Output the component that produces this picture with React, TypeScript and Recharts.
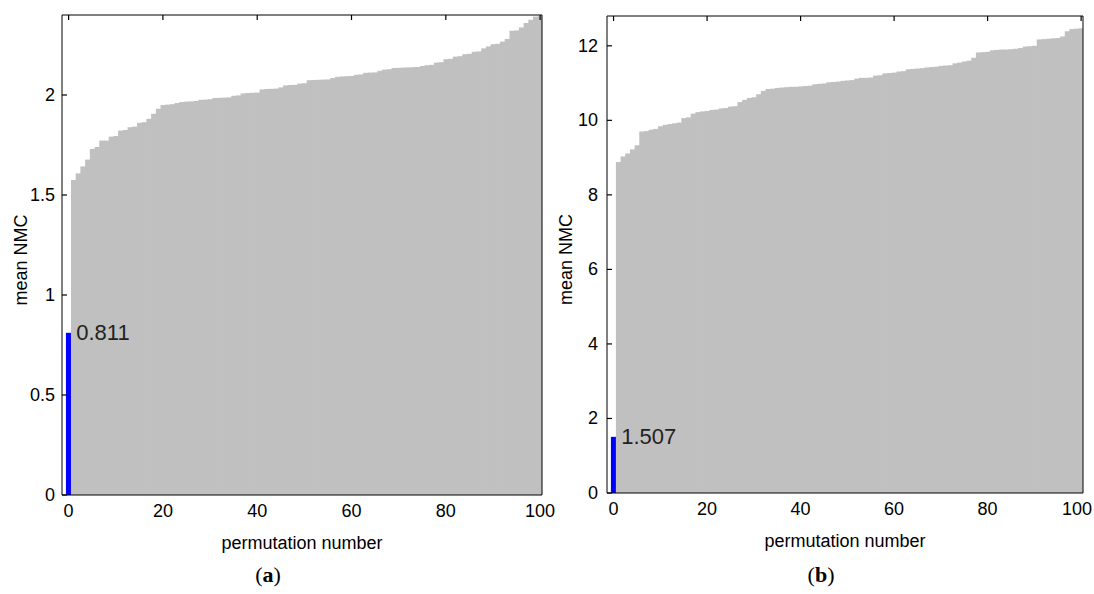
import React from 'react';
import { BarChart, Bar, XAxis, YAxis, LabelList } from 'recharts';

// permutation index: 0 = the real model, 1..100 = permuted runs (sorted)
const permNumbers = Array.from({ length: 101 }, (_, i) => i);

const observedA = 0.811;
const permutedA = [
  1.575, 1.608, 1.643, 1.677, 1.73, 1.74, 1.772, 1.772, 1.792, 1.795,
  1.822, 1.825, 1.839, 1.842, 1.861, 1.864, 1.881, 1.906, 1.931, 1.95,
  1.952, 1.954, 1.96, 1.965, 1.967, 1.968, 1.97, 1.976, 1.977, 1.979,
  1.985, 1.986, 1.987, 1.988, 1.996, 1.998, 2.008, 2.01, 2.011, 2.012,
  2.028, 2.03, 2.031, 2.032, 2.038, 2.048, 2.05, 2.051, 2.057, 2.059,
  2.074, 2.075, 2.076, 2.077, 2.078, 2.085, 2.091, 2.093, 2.094, 2.095,
  2.101, 2.103, 2.111, 2.112, 2.113, 2.121, 2.127, 2.129, 2.135, 2.136,
  2.137, 2.138, 2.139, 2.14, 2.145, 2.149, 2.151, 2.162, 2.164, 2.179,
  2.181, 2.192, 2.194, 2.204, 2.206, 2.216, 2.218, 2.233, 2.243, 2.254,
  2.256, 2.267, 2.28, 2.321, 2.323, 2.338, 2.36, 2.376, 2.392, 2.394,
];

const observedB = 1.507;
const permutedB = [
  8.88, 9.03, 9.11, 9.22, 9.33, 9.7, 9.71, 9.75, 9.77, 9.84,
  9.88, 9.9, 9.92, 9.94, 10.06, 10.08, 10.18, 10.22, 10.24, 10.25,
  10.28, 10.29, 10.32, 10.33, 10.37, 10.38, 10.49, 10.55, 10.6, 10.62,
  10.7, 10.79, 10.84, 10.85, 10.87, 10.88, 10.89, 10.9, 10.9, 10.91,
  10.92, 10.93, 10.97, 10.98, 10.99, 11.02, 11.03, 11.04, 11.06, 11.07,
  11.08, 11.12, 11.14, 11.14, 11.15, 11.2, 11.21, 11.26, 11.27, 11.28,
  11.31, 11.32, 11.37, 11.38, 11.39, 11.4, 11.42, 11.43, 11.44, 11.46,
  11.47, 11.48, 11.53, 11.55, 11.58, 11.6, 11.68, 11.82, 11.83, 11.84,
  11.88, 11.89, 11.9, 11.9, 11.91, 11.92, 11.94, 11.98, 11.99, 12.0,
  12.17, 12.18, 12.19, 12.2, 12.21, 12.25, 12.39, 12.45, 12.46, 12.47,
];

const xTicks = [0, 20, 40, 60, 80, 100];
const yTicksA = [0, 0.5, 1, 1.5, 2];
const yTicksB = [0, 2, 4, 6, 8, 10, 12];

const FONT = '"Liberation Sans", Arial, sans-serif';
const GRAY = '#c0c0c0';
const BLUE = '#0000ff';

const buildRows = (observed: number, permuted: number[]) =>
  permNumbers.map(n => ({ n, v: n === 0 ? observed : permuted[n - 1] }));

const renderBar = (props: any) => {
  const { x, y, width, height, index } = props;
  if (height == null || isNaN(height)) return <g />;
  if (index === 0) {
    return <rect x={x - 0.3} y={y} width={width + 1.2} height={height} fill={BLUE} />;
  }
  return <rect x={x} y={y} width={width + 0.5} height={height} fill={GRAY} />;
};

// value printed next to the observed (blue) bar only
const renderObservedLabel = (props: any) => {
  const { x, y, width, value, index } = props;
  if (index !== 0) return null;
  return (
    <text x={x + width + 5} y={y} dominantBaseline="central" fontSize={22} fontFamily={FONT} fill="#222">
      {Number(value).toFixed(3)}
    </text>
  );
};

const makeLeftTick = (gap: number) => (props: any) => {
  const { x, y, payload } = props;
  return (
    <g>
      <line x1={x + gap} x2={x + gap + 5} y1={y} y2={y} stroke="#000" strokeWidth={1.2} />
      <text x={x} y={y} textAnchor="end" dominantBaseline="central" fontSize={18} fontFamily={FONT} fill="#000">
        {payload.value}
      </text>
    </g>
  );
};

const TopTick = (props: any) => {
  const { x, y } = props;
  return <line x1={x} x2={x} y1={y} y2={y + 5} stroke="#000" strokeWidth={1.2} />;
};

const makeBottomTick = (maxX: number) => (props: any) => {
  const { x, y, payload } = props;
  return (
    <text x={Math.min(x, maxX)} y={y} textAnchor="middle" dy="0.72em" fontSize={18} fontFamily={FONT} fill="#000">
      {payload.value}
    </text>
  );
};

const yLabel = (props: any) => {
  const { viewBox } = props;
  const cx = viewBox.x + 9;
  const cy = viewBox.y + viewBox.height / 2 + 5;
  return (
    <text x={cx} y={cy} transform={`rotate(-90 ${cx} ${cy})`} textAnchor="middle" dominantBaseline="central" fontSize={18} fontFamily={FONT} fill="#000">
      mean NMC
    </text>
  );
};

const xLabel = (props: any) => {
  const { viewBox } = props;
  return (
    <text x={viewBox.x + viewBox.width / 2} y={viewBox.y + 54} textAnchor="middle" fontSize={18} fontFamily={FONT} fill="#000">
      permutation number
    </text>
  );
};

interface PanelProps {
  observed: number;
  permuted: number[];
  yMax: number;
  yTicks: number[];
  tickGap: number;
  width: number;
  margin: { top: number; right: number; bottom: number; left: number };
}

const Panel: React.FC<PanelProps> = ({ observed, permuted, yMax, yTicks, tickGap, width, margin }) => {
  const rows = buildRows(observed, permuted);
  const xDomain = [-1.4, 100.4];
  return (
    <BarChart width={width} height={560} data={rows} margin={margin} barCategoryGap={0} barGap={0}>
      <Bar dataKey="v" shape={renderBar} isAnimationActive={false}>
        <LabelList dataKey="v" content={renderObservedLabel} />
      </Bar>
      <XAxis
        dataKey="n"
        type="number"
        domain={xDomain}
        ticks={xTicks}
        interval={0}
        allowDataOverflow
        height={60}
        tickLine={false}
        tickSize={0}
        tickMargin={9}
        axisLine={{ stroke: '#000' }}
        tick={makeBottomTick(width - 17)}
        label={xLabel}
      />
      <XAxis
        xAxisId="top"
        orientation="top"
        dataKey="n"
        type="number"
        domain={xDomain}
        ticks={xTicks}
        interval={0}
        allowDataOverflow
        height={1}
        tickLine={false}
        tickSize={0}
        tickMargin={0}
        axisLine={{ stroke: '#000' }}
        tick={TopTick}
      />
      <YAxis
        type="number"
        domain={[0, yMax]}
        ticks={yTicks}
        interval={0}
        allowDataOverflow
        width={50}
        tickLine={false}
        tickSize={0}
        tickMargin={tickGap}
        axisLine={{ stroke: '#000' }}
        tick={makeLeftTick(tickGap)}
        label={yLabel}
      />
      <YAxis
        yAxisId="right"
        orientation="right"
        type="number"
        domain={[0, yMax]}
        width={1}
        tick={false}
        tickLine={false}
        axisLine={{ stroke: '#000' }}
      />
    </BarChart>
  );
};

const captionStyle: React.CSSProperties = {
  position: 'absolute',
  top: 562,
  width: 60,
  textAlign: 'center',
  fontFamily: '"Liberation Serif", "Times New Roman", serif',
  fontSize: 22,
  color: '#000',
  lineHeight: '26px',
};

export default function App() {
  return (
    <div style={{ position: 'absolute', left: 0, top: 0, width: 1094, height: 594, background: '#fff', overflow: 'hidden' }}>
      <div style={{ position: 'absolute', left: 0, top: 0 }}>
        <Panel
          observed={observedA}
          permuted={permutedA}
          yMax={2.4}
          yTicks={yTicksA}
          tickGap={7}
          width={560}
          margin={{ top: 14, right: 17, bottom: 5, left: 12 }}
        />
      </div>
      <div style={{ position: 'absolute', left: 545, top: 0 }}>
        <Panel
          observed={observedB}
          permuted={permutedB}
          yMax={12.8}
          yTicks={yTicksB}
          tickGap={9}
          width={549}
          margin={{ top: 15, right: 10, bottom: 7, left: 12 }}
        />
      </div>
      <div style={{ ...captionStyle, left: 238 }}>
        (<b>a</b>)
      </div>
      <div style={{ ...captionStyle, left: 791 }}>
        (<b>b</b>)
      </div>
    </div>
  );
}
